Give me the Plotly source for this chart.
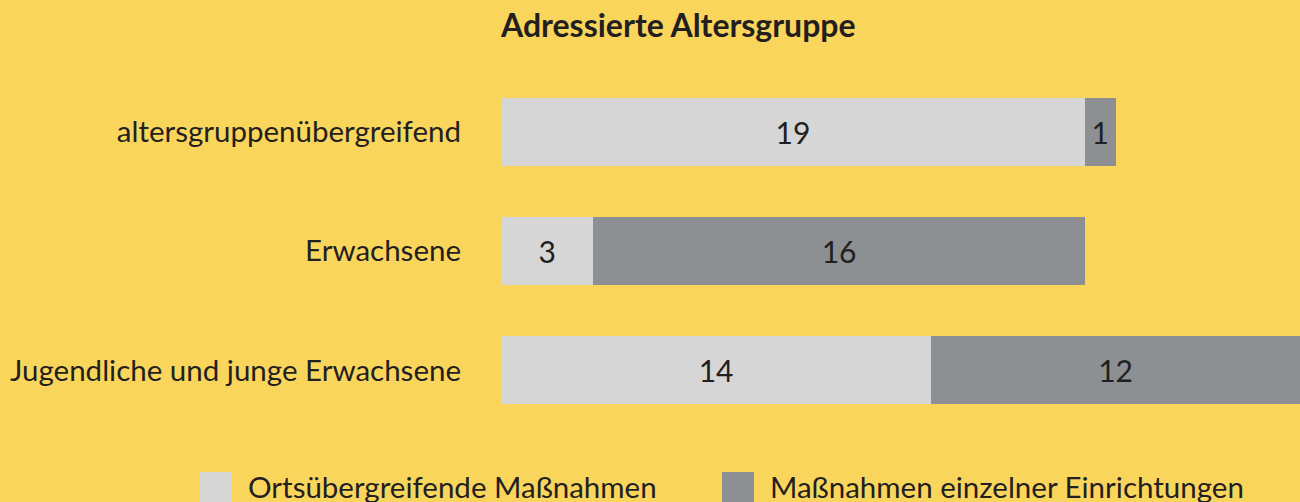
import plotly.graph_objects as go

categories = ["altersgruppenübergreifend", "Erwachsene", "Jugendliche und junge Erwachsene"]
ortsuebergreifend = [19, 3, 14]
einzelne = [1, 16, 12]
series_names = ["Ortsübergreifende Maßnahmen", "Maßnahmen einzelner Einrichtungen"]
series_colors = ["#D6D6D6", "#8D9093"]

BG = "#FAD55C"
TXT = "#231F20"
W, H = 1300, 502
L, R, T, B = 501, 0, 72, 72
XMAX = 26

fig = go.Figure()
for name, vals, col in zip(series_names, [ortsuebergreifend, einzelne], series_colors):
    fig.add_trace(go.Bar(
        y=categories, x=vals, orientation="h", name=name,
        marker=dict(color=col, line=dict(width=0)),
        text=vals, textposition="inside", insidetextanchor="middle",
        textfont=dict(family="Lato", size=30, color=TXT), cliponaxis=False,
        showlegend=False,
    ))

# legend drawn as swatches + labels
def px_to_paper_x(px):
    return (px - L) / (W - L - R)

def px_to_paper_y(py):
    return 1 - (py - T) / (H - T - B)

legend_x = [200, 722]
for name, col, lx in zip(series_names, series_colors, legend_x):
    fig.add_shape(type="rect", xref="paper", yref="paper",
                  x0=px_to_paper_x(lx), x1=px_to_paper_x(lx + 32),
                  y0=px_to_paper_y(472), y1=px_to_paper_y(505),
                  fillcolor=col, line=dict(width=0), layer="above")
    fig.add_annotation(text=name, xref="paper", yref="paper",
                       x=px_to_paper_x(lx + 46), y=px_to_paper_y(486),
                       xanchor="left", yanchor="middle", showarrow=False,
                       font=dict(family="Lato", size=29.5, color=TXT))

fig.update_layout(
    width=W, height=H,
    barmode="stack", bargap=0.43,
    paper_bgcolor=BG, plot_bgcolor=BG,
    margin=dict(l=L, r=R, t=T, b=B),
    font=dict(family="Lato", color=TXT, size=30),
    title=dict(text="<b>Adressierte Altersgruppe</b>", x=L / W, xanchor="left",
               y=1 - 26 / H, yanchor="middle", xref="container", yref="container",
               font=dict(family="Lato", size=32, color=TXT)),
    uniformtext=dict(minsize=20, mode="show"),
    showlegend=False,
)
fig.update_xaxes(range=[0, XMAX], visible=False, fixedrange=True)
fig.update_yaxes(categoryorder="array", categoryarray=categories[::-1],
                 showgrid=False, zeroline=False, showline=False,
                 ticks="", ticklabelstandoff=39, fixedrange=True,
                 tickfont=dict(family="Lato", size=29.5, color=TXT))

fig.write_html("out.html", config={"displayModeBar": False},
               post_script="document.body.style.margin='0';document.body.style.overflow='hidden';")
